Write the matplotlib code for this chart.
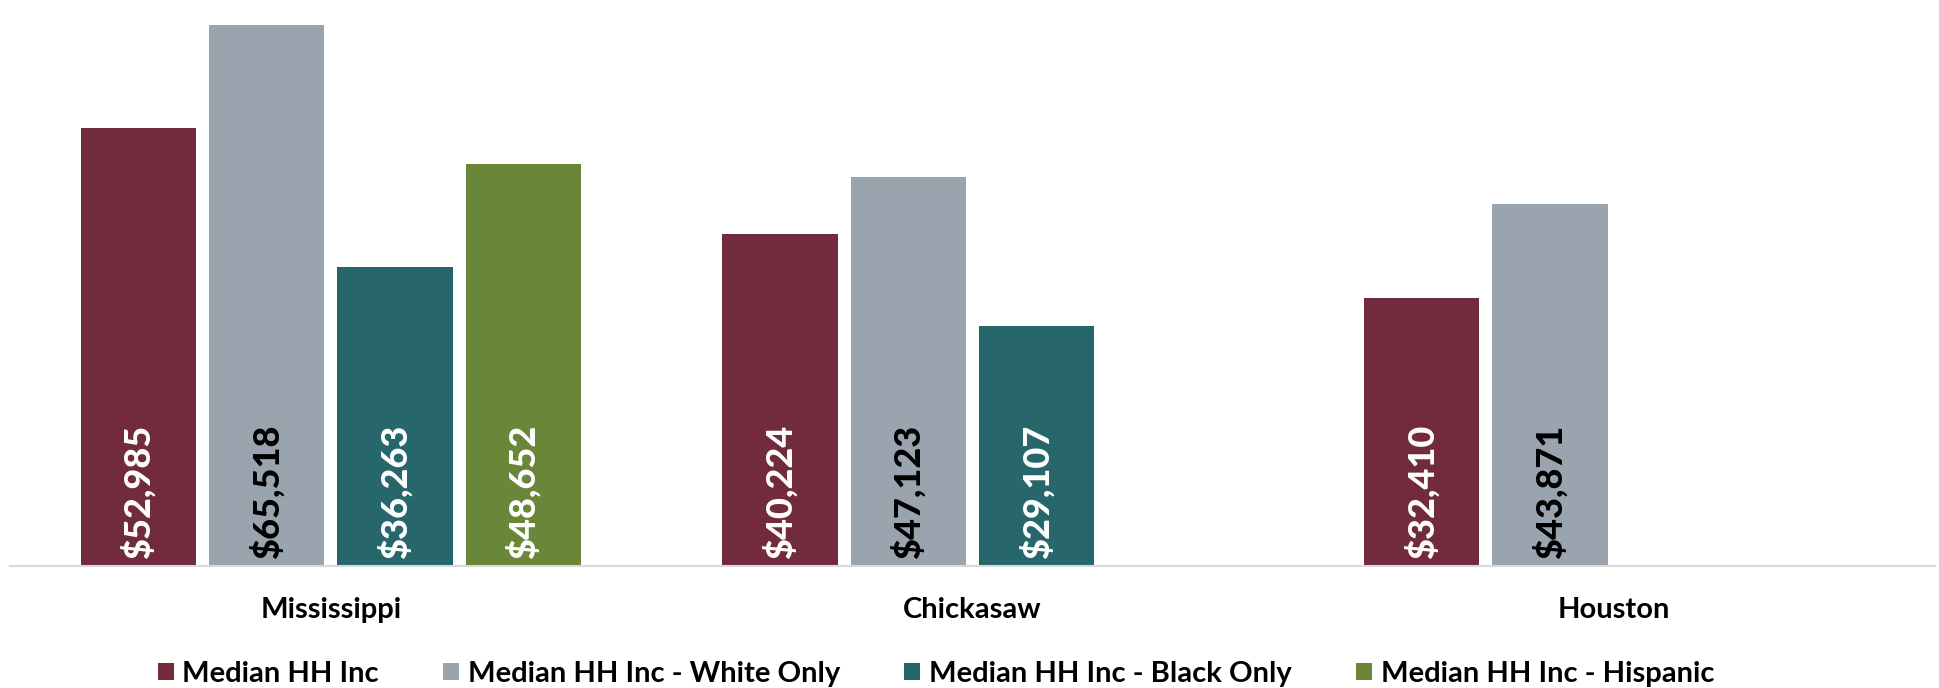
import matplotlib
matplotlib.use("Agg")
import matplotlib.pyplot as plt
import numpy as np

plt.rcParams['font.family'] = ['Lato', 'DejaVu Sans']

categories = ["Mississippi", "Chickasaw", "Houston"]
series_names = ["Median HH Inc", "Median HH Inc - White Only",
                "Median HH Inc - Black Only", "Median HH Inc - Hispanic"]
median_all = [52985, 40224, 32410]
median_white = [65518, 47123, 43871]
median_black = [36263, 29107, None]
median_hispanic = [48652, None, None]
series_values = [median_all, median_white, median_black, median_hispanic]
colors = ["#722B3D", "#9AA4AE", "#27676B", "#6A8638"]
label_colors = ["white", "black", "white", "white"]

fig = plt.figure(figsize=(19.4, 6.88), dpi=100)
ax = fig.add_axes([10/1940, 1 - 566/688, 1925/1940, 566/688])

x = np.arange(len(categories))
width = 0.18
offsets = [-0.3, -0.1, 0.1, 0.3]

handles = []
for vals, off, col, lc, name in zip(series_values, offsets, colors, label_colors, series_names):
    xs = [xi + off for xi, v in zip(x, vals) if v is not None]
    vs = [v for v in vals if v is not None]
    bars = ax.bar(xs, vs, width=width, color=col, label=name)
    handles.append(bars)
    for b, v in zip(bars, vs):
        ax.text(b.get_x() + b.get_width() / 2, 800, f"${v:,}", rotation=90,
                ha='center', va='bottom', color=lc, fontsize=26, fontweight='black')

ax.set_xlim(-0.5, 2.5)
ax.set_ylim(0, 68546)
for s in ['top', 'right', 'left']:
    ax.spines[s].set_visible(False)
ax.spines['bottom'].set_color('#D9D9D9')
ax.spines['bottom'].set_linewidth(1.5)
ax.set_yticks([])
ax.set_xticks(x)
ax.set_xticklabels(categories, fontsize=21, fontweight='bold')
ax.tick_params(axis='x', length=0, pad=22)

fig.legend(handles=handles, labels=series_names, loc='center',
           bbox_to_anchor=(0.4825, 1 - 674/688), ncol=4, frameon=False,
           handlelength=0.55, handleheight=0.55, handletextpad=0.3,
           columnspacing=2.2, prop={'weight': 'bold', 'size': 21})

fig.savefig("out.png", dpi=100)
